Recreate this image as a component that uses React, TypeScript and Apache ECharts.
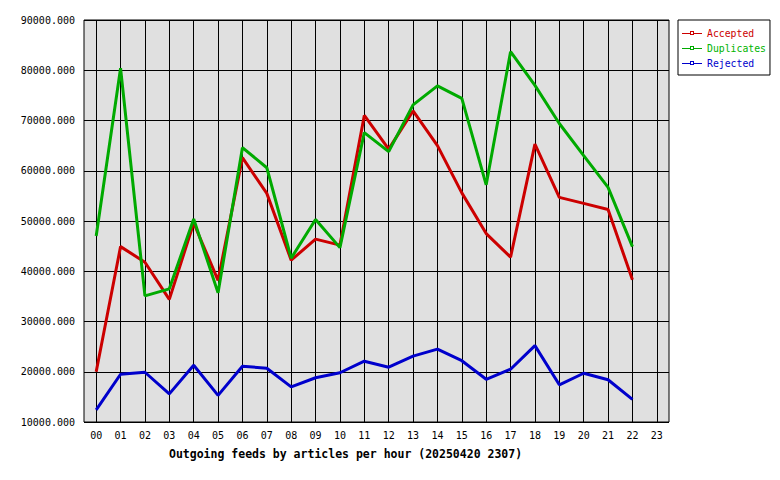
import { useEffect, useRef } from "react";
import * as echarts from "echarts";

const hours = [
  "00", "01", "02", "03", "04", "05", "06", "07", "08", "09", "10", "11",
  "12", "13", "14", "15", "16", "17", "18", "19", "20", "21", "22", "23",
];

const accepted = [
  20000, 44900, 41800, 34400, 49600, 38200, 62600, 55500, 42200, 46400, 45200, 71000,
  64300, 71900, 65000, 55600, 47500, 42800, 65300, 54700, 53500, 52300, 38300,
];

const duplicates = [
  47000, 80400, 35100, 36500, 50400, 35700, 64600, 60600, 42600, 50300, 44700, 67600,
  63800, 73100, 76900, 74400, 57200, 83700, 77000, 69400, 63000, 56700, 44900,
];

const rejected = [
  12400, 19500, 19900, 15600, 21300, 15300, 21100, 20700, 17000, 18800, 19800, 22100,
  20900, 23100, 24500, 22200, 18500, 20500, 25200, 17400, 19700, 18400, 14500,
];

const yTicks = { min: 10000, max: 90000, step: 10000 };

const MONO = "'DejaVu Sans Mono', monospace";
const RED = "#cc0000";
const GREEN = "#00aa00";
const BLUE = "#0000cc";

// legend glyph: thin line with a hollow little square in the middle
const legendIcon = "path://M0,3H8V1H12V3H20V4H12V5H8V4H0ZM9,2V4H11V2Z";

export default function App() {
  const ref = useRef<HTMLDivElement>(null);

  useEffect(() => {
    document.body.style.margin = "0";
    if (!ref.current) return;
    const chart = echarts.init(ref.current, null, { renderer: "svg" });

    const line = (name: string, data: number[], color: string) => ({
      name,
      type: "line",
      data,
      symbol: "none",
      lineStyle: { color, width: 3 },
      itemStyle: { color },
      z: 3,
    });

    chart.setOption({
      animation: false,
      backgroundColor: "#ffffff",
      title: {
        text: "Outgoing feeds by articles per hour (20250420 2307)",
        left: 164,
        top: 443,
        textStyle: { fontFamily: MONO, fontSize: 11.5, fontWeight: "bold", color: "#000" },
      },
      legend: {
        orient: "vertical",
        left: 678,
        top: 20,
        padding: [7, 4, 6, 4],
        borderColor: "#000",
        borderWidth: 1,
        backgroundColor: "#fff",
        itemWidth: 20,
        itemHeight: 6,
        itemGap: 3,
        icon: legendIcon,
        itemStyle: { borderWidth: 0 },
        textStyle: { fontFamily: MONO, fontSize: 9.8, lineHeight: 12 },
        data: [
          { name: "Accepted", textStyle: { color: RED } },
          { name: "Duplicates", textStyle: { color: "#00b400" } },
          { name: "Rejected", textStyle: { color: BLUE } },
        ],
      },
      grid: {
        left: 84,
        top: 20,
        right: 111,
        bottom: 58,
        show: true,
        backgroundColor: "#e0e0e0",
        borderColor: "#000",
        borderWidth: 1,
      },
      xAxis: {
        type: "category",
        data: hours,
        boundaryGap: true,
        axisLine: { show: false },
        axisTick: { show: false },
        axisLabel: { color: "#000", fontFamily: MONO, fontSize: 10, margin: 8 },
        splitLine: { show: true, alignWithLabel: true, lineStyle: { color: "#000", width: 1 } },
      },
      yAxis: {
        type: "value",
        min: yTicks.min,
        max: yTicks.max,
        interval: yTicks.step,
        axisLine: { show: false },
        axisTick: { show: false },
        axisLabel: {
          color: "#000",
          fontFamily: MONO,
          fontSize: 10,
          margin: 9,
          formatter: (v: number) => v.toFixed(3),
        },
        splitLine: { show: true, lineStyle: { color: "#000", width: 1 } },
      },
      series: [
        line("Accepted", accepted, RED),
        line("Duplicates", duplicates, GREEN),
        line("Rejected", rejected, BLUE),
      ],
    });

    return () => chart.dispose();
  }, []);

  return <div ref={ref} style={{ width: 780, height: 480 }} />;
}
